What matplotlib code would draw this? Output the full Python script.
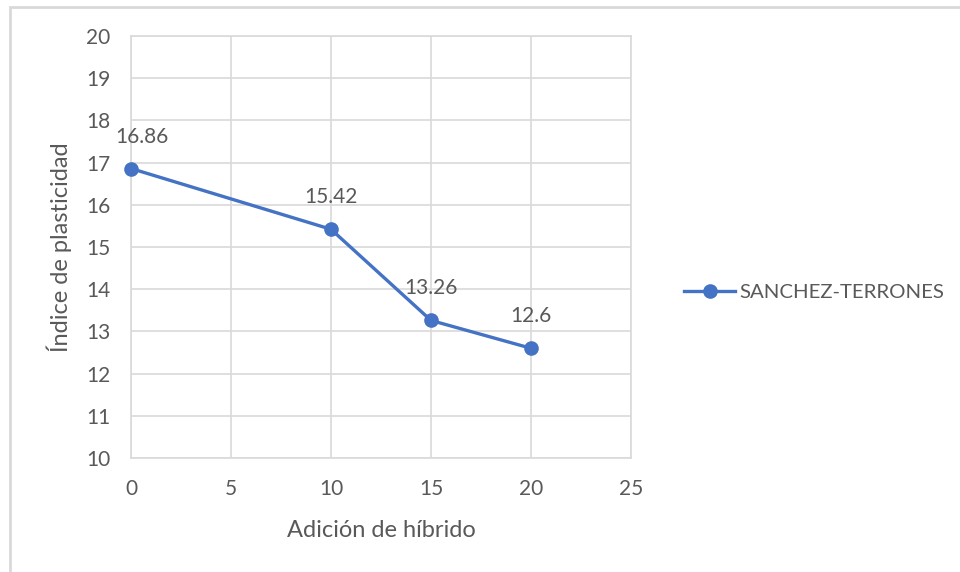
import matplotlib.pyplot as plt
from matplotlib.patches import Rectangle

adicion = [0, 10, 15, 20]
indice = [16.86, 15.42, 13.26, 12.6]
etiquetas = ["16.86", "15.42", "13.26", "12.6"]
serie = "SANCHEZ-TERRONES"

plt.rcParams["font.family"] = ["Lato", "DejaVu Sans"]
GRAY = "#595959"
GRID = "#d9d9d9"
BLUE = "#4472C4"

fig = plt.figure(figsize=(9.6, 5.72), dpi=100)
fig.patches.append(Rectangle((10 / 960, -0.05), 1.0, 1 - 7 / 572 + 0.05,
                             transform=fig.transFigure, fill=False,
                             edgecolor=GRID, linewidth=2))

ax = fig.add_axes([131 / 960, 114 / 572, 500 / 960, 422 / 572])
ax.plot(adicion, indice, color=BLUE, linewidth=2.4, marker="o",
        markersize=9.5, label=serie, clip_on=False, zorder=3)
# el primer rótulo va algo desplazado a la derecha, como en Excel
dx = [8, 0, 0, 0]
for x, y, t, d in zip(adicion, indice, etiquetas, dx):
    ax.annotate(t, (x, y), xytext=(d, 23), textcoords="offset points",
                ha="center", va="center", fontsize=15, color=GRAY)

ax.set_xlim(0, 25)
ax.set_ylim(10, 20)
ax.set_xticks(range(0, 26, 5))
ax.set_yticks(range(10, 21))
ax.grid(True, color=GRID, linewidth=1.2)
ax.set_axisbelow(True)
for s in ax.spines.values():
    s.set_color(GRID)
    s.set_linewidth(1.2)
ax.tick_params(length=0, labelsize=15, labelcolor=GRAY)
ax.tick_params(axis="x", pad=15)
ax.tick_params(axis="y", pad=15)
ax.set_xlabel("Adición de híbrido", fontsize=17, color=GRAY, labelpad=15)
ax.set_ylabel("Índice de plasticidad", fontsize=17, color=GRAY, labelpad=10)

ax.legend(loc="center left", bbox_to_anchor=(1.07, 0.393), frameon=False,
          fontsize=14.7, labelcolor=GRAY, handlelength=2.5, handletextpad=0.2)

fig.savefig("out.png", dpi=100)
